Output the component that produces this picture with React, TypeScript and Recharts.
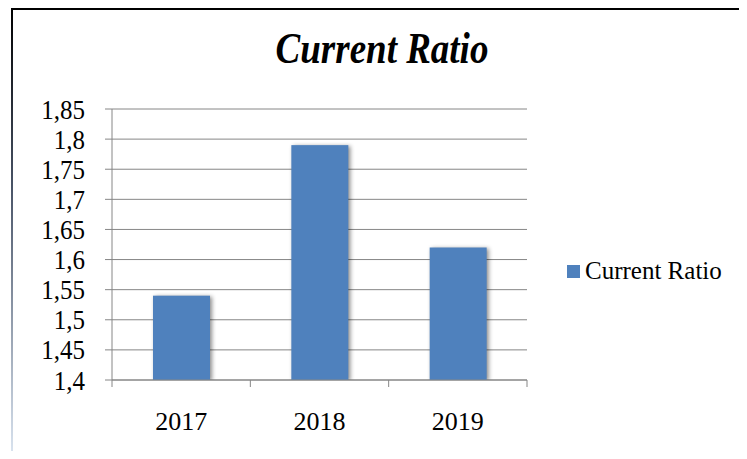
import React from 'react';
import { BarChart, Bar, XAxis, YAxis, CartesianGrid, Legend } from 'recharts';

const categories = ['2017', '2018', '2019'];
const currentRatio = [1.54, 1.79, 1.62];
const yTicks = [1.4, 1.45, 1.5, 1.55, 1.6, 1.65, 1.7, 1.75, 1.8, 1.85];
const seriesName = 'Current Ratio';
const chartTitle = 'Current Ratio';

const data = categories.map((c, i) => ({ year: c, currentRatio: currentRatio[i] }));

const W = 747;
const H = 459;
const PLOT_LEFT = 112;
const PLOT_RIGHT = 527;
const PLOT_TOP = 109;
const PLOT_BOTTOM = 380;
const BAND = (PLOT_RIGHT - PLOT_LEFT) / categories.length;
const GRID = '#868686';
const BAR = '#4F81BD';
const FONT = "'Liberation Serif', 'Times New Roman', serif";

const fmt = (v: number) => String(Math.round(v * 100) / 100).replace('.', ',');

const XTick = (props: any) => {
  const { x, y, payload, index } = props;
  return (
    <g>
      {index === 0 && <line x1={x - BAND / 2} x2={x - BAND / 2} y1={y} y2={y + 7} stroke={GRID} />}
      <line x1={x + BAND / 2} x2={x + BAND / 2} y1={y} y2={y + 7} stroke={GRID} />
      <text x={x} y={y + 50} textAnchor="middle" style={{ fontFamily: FONT, fontSize: 26 }} fill="#000">
        {payload.value}
      </text>
    </g>
  );
};

const YTick = (props: any) => {
  const { x, y, payload } = props;
  return (
    <g transform={`translate(0 ${y}) scale(1 1.12) translate(0 ${-y})`}>
      <text x={x} y={y + 8.5} textAnchor="end" style={{ fontFamily: FONT, fontSize: 25 }} fill="#000">
        {fmt(payload.value)}
      </text>
    </g>
  );
};

const BarShape = (props: any) => {
  const { x, y, width, height } = props;
  return (
    <rect
      x={x}
      y={y}
      width={width}
      height={height}
      fill={BAR}
      style={{ filter: 'drop-shadow(2px 1px 2px rgba(0,0,0,0.45))' }}
    />
  );
};

const LegendContent = (props: any) => {
  const { payload } = props;
  return (
    <div>
      {(payload || []).map((e: any) => (
        <div key={e.value} style={{ display: 'flex', alignItems: 'center', fontFamily: FONT, fontSize: 25, color: '#000', whiteSpace: 'nowrap' }}>
          <span style={{ display: 'inline-block', width: 13, height: 13, background: BAR, marginRight: 5 }} />
          <span>{e.value}</span>
        </div>
      ))}
    </div>
  );
};

export default function App() {
  return (
    <div style={{ position: 'relative', width: W, height: H, margin: -8, background: '#fff', overflow: 'hidden' }}>
      <div style={{ position: 'absolute', left: 11, top: 8, width: W - 11, height: 2, background: '#000' }} />
      <div style={{ position: 'absolute', left: 11, top: 8, width: 2, height: H - 8, background: 'linear-gradient(#000, #4a5568 40%, #dce6f2)' }} />
      <svg style={{ position: 'absolute', left: 0, top: 0 }} width={W} height={80}>
        <g transform="translate(0 63) scale(1 1.2) translate(0 -63)">
          <text x={382} y={63} textAnchor="middle" style={{ fontFamily: FONT, fontSize: 37, fontWeight: 'bold', fontStyle: 'italic' }} fill="#000">
            {chartTitle}
          </text>
        </g>
      </svg>
      <div style={{ position: 'absolute', left: 0, top: 0 }}>
        <BarChart
          width={W}
          height={H}
          data={data}
          margin={{ top: PLOT_TOP, right: W - PLOT_RIGHT, bottom: 0, left: 0 }}
        >
          <CartesianGrid vertical={false} stroke={GRID} strokeWidth={1} />
          <XAxis
            dataKey="year"
            height={H - PLOT_BOTTOM}
            tickLine={false}
            tickSize={0}
            tickMargin={0}
            axisLine={{ stroke: GRID }}
            tick={<XTick />}
            interval={0}
          />
          <YAxis
            width={PLOT_LEFT}
            domain={[1.4, 1.85]}
            ticks={yTicks}
            tickSize={7}
            tickMargin={20}
            axisLine={{ stroke: GRID }}
            tickLine={{ stroke: GRID }}
            tick={<YTick />}
            allowDataOverflow
            interval={0}
          />
          <Legend
            layout="horizontal"
            verticalAlign="middle"
            align="center"
            content={<LegendContent />}
            wrapperStyle={{ left: 567, top: 257, width: 180 }}
          />
          <Bar dataKey="currentRatio" name={seriesName} barSize={57} shape={<BarShape />} isAnimationActive={false} />
        </BarChart>
      </div>
    </div>
  );
}
